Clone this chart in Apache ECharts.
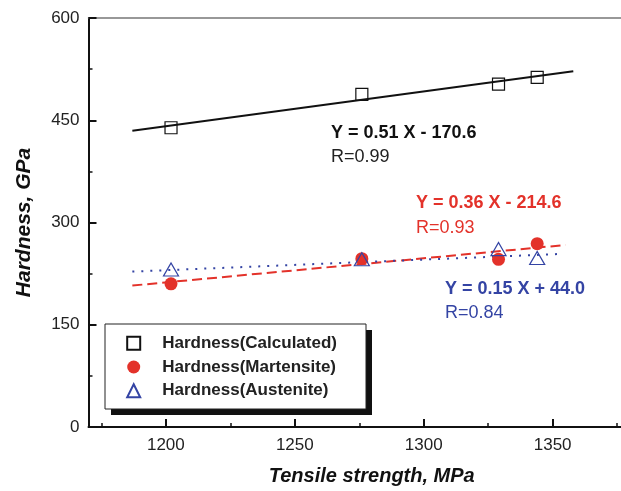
<!DOCTYPE html>
<html>
<head>
<meta charset="utf-8">
<script src="https://cdn.jsdelivr.net/npm/echarts@6/dist/echarts.min.js"></script>
<style>
  html, body { margin: 0; padding: 0; background: #fff; }
  #chart { width: 621px; height: 491px; }
</style>
</head>
<body>
<div id="chart"></div>
<script>
// measured points
const strength = [1202, 1276, 1329, 1344];
const hardCalculated = [439, 488, 503, 513];
const hardMartensite = [210, 247, 246, 269];
const hardAustenite = [231, 246, 261, 248];

// fitted lines, ends
const fitCalcX = [1187, 1358];
const fitCalcY = [434.5, 522];
const fitMartX = [1187, 1355];
const fitMartY = [207.5, 267];
const fitAustX = [1187, 1354];
const fitAustY = [228, 254];

const xLabels = [1200, 1250, 1300, 1350];
const xMinorTicks = [1175, 1225, 1275, 1325, 1375];
const seriesNames = ["Hardness(Calculated)", "Hardness(Martensite)", "Hardness(Austenite)"];
const equations = ["Y = 0.51 X - 170.6", "Y = 0.36 X - 214.6", "Y = 0.15 X + 44.0"];
const rValues = ["R=0.99", "R=0.93", "R=0.84"];

const RED = "#e3322a";
const BLUE = "#3444a4";
const FONT = "'Liberation Sans', Arial, Helvetica, sans-serif";

const zip = (xs, ys) => xs.map((x, i) => [x, ys[i]]);

const chart = echarts.init(document.getElementById("chart"));

function label(text, x, y, color, bold) {
  return {
    type: "text",
    x: x,
    y: y,
    silent: true,
    style: {
      text: text,
      fill: color,
      fontSize: 18,
      fontWeight: bold ? "bold" : "normal",
      fontFamily: FONT,
      verticalAlign: "middle",
    },
  };
}

const option = {
  animation: false,
  backgroundColor: "#fff",
  grid: { left: 88.5, right: 0, top: 18, bottom: 61 },
  xAxis: [
    {
      type: "value",
      min: 1170,
      max: 1376.5,
      position: "bottom",
      axisLine: { show: true, onZero: false, lineStyle: { color: "#111", width: 2 } },
      axisTick: { show: true, inside: true, length: 8, customValues: xLabels, lineStyle: { color: "#111", width: 2 } },
      axisLabel: {
        customValues: xLabels, fontSize: 17, color: "#222", margin: 10, fontFamily: FONT,
        formatter: (v) => String(v),
      },
      splitLine: { show: false },
      name: "Tensile strength, MPa",
      nameLocation: "middle",
      nameGap: 39,
      nameTextStyle: {
        fontSize: 20, fontWeight: "bold", fontStyle: "italic", color: "#111",
        fontFamily: FONT, padding: [0, 0, 0, 34],
      },
    },
    {
      // minor ticks
      type: "value",
      min: 1170,
      max: 1376.5,
      position: "bottom",
      axisLine: { show: false },
      axisTick: { show: true, inside: true, length: 4, customValues: xMinorTicks, lineStyle: { color: "#111", width: 1.5 } },
      axisLabel: { show: false },
      splitLine: { show: false },
    },
    {
      // top frame line
      type: "value",
      min: 1170,
      max: 1376.5,
      position: "top",
      axisLine: { show: true, onZero: false, lineStyle: { color: "#777", width: 1.5 } },
      axisTick: { show: false },
      axisLabel: { show: false },
      splitLine: { show: false },
    },
  ],
  yAxis: {
    type: "value",
    min: 0,
    max: 600,
    interval: 150,
    axisLine: { show: true, onZero: false, lineStyle: { color: "#111", width: 2 } },
    axisTick: { show: true, inside: true, length: 8, lineStyle: { color: "#111", width: 2 } },
    minorTick: { show: true, splitNumber: 2, length: 4, lineStyle: { color: "#111", width: 1.5 } },
    axisLabel: { fontSize: 17, color: "#222", margin: 9, fontFamily: FONT },
    splitLine: { show: false },
    name: "Hardness, GPa",
    nameLocation: "middle",
    nameGap: 54,
    nameTextStyle: { fontSize: 21, fontWeight: "bold", fontStyle: "italic", color: "#111", fontFamily: FONT },
  },
  legend: {
    data: seriesNames,
    orient: "vertical",
    left: 126.2,
    top: 334.8,
    itemWidth: 13,
    itemHeight: 13,
    itemGap: 6.7,
    padding: 0,
    z: 10,
    selectedMode: false,
    textStyle: {
      fontSize: 17, fontWeight: "bold", color: "#222", fontFamily: FONT,
      padding: [0, 0, 0, 17],
    },
  },
  graphic: [
    // legend frame with its drop shadow
    { type: "rect", z: 5, silent: true, shape: { x: 111, y: 330, width: 261, height: 85 }, style: { fill: "#111" } },
    { type: "rect", z: 6, silent: true, shape: { x: 105, y: 324, width: 261, height: 85 }, style: { fill: "#fff", stroke: "#222", lineWidth: 1 } },
    label(equations[0], 331, 133, "#111", true),
    label(rValues[0], 331, 157, "#222", false),
    label(equations[1], 416, 203, RED, true),
    label(rValues[1], 416, 228, RED, false),
    label(equations[2], 445, 289, BLUE, true),
    label(rValues[2], 445, 313, BLUE, false),
  ],
  series: [
    {
      type: "line",
      data: zip(fitCalcX, fitCalcY),
      showSymbol: false,
      silent: true,
      z: 1,
      lineStyle: { color: "#111", width: 2 },
    },
    {
      type: "line",
      data: zip(fitMartX, fitMartY),
      showSymbol: false,
      silent: true,
      z: 1,
      lineStyle: { color: RED, width: 2, type: [10, 5] },
    },
    {
      type: "line",
      data: zip(fitAustX, fitAustY),
      showSymbol: false,
      silent: true,
      z: 1,
      lineStyle: { color: BLUE, width: 2, type: [2, 7] },
    },
    {
      name: seriesNames[0],
      type: "scatter",
      data: zip(strength, hardCalculated),
      symbol: "rect",
      symbolSize: 12,
      z: 3,
      itemStyle: { color: "rgba(255,255,255,0)", borderColor: "#111", borderWidth: 1.2, opacity: 1 },
    },
    {
      name: seriesNames[1],
      type: "scatter",
      data: zip(strength, hardMartensite),
      symbol: "circle",
      symbolSize: 13,
      z: 3,
      itemStyle: { color: RED, opacity: 1 },
    },
    {
      name: seriesNames[2],
      type: "scatter",
      data: zip(strength, hardAustenite),
      symbol: "triangle",
      symbolSize: [15, 13],
      z: 4,
      itemStyle: { color: "rgba(255,255,255,0)", borderColor: BLUE, borderWidth: 1.2, opacity: 1 },
    },
  ],
};

chart.setOption(option);
</script>
</body>
</html>
